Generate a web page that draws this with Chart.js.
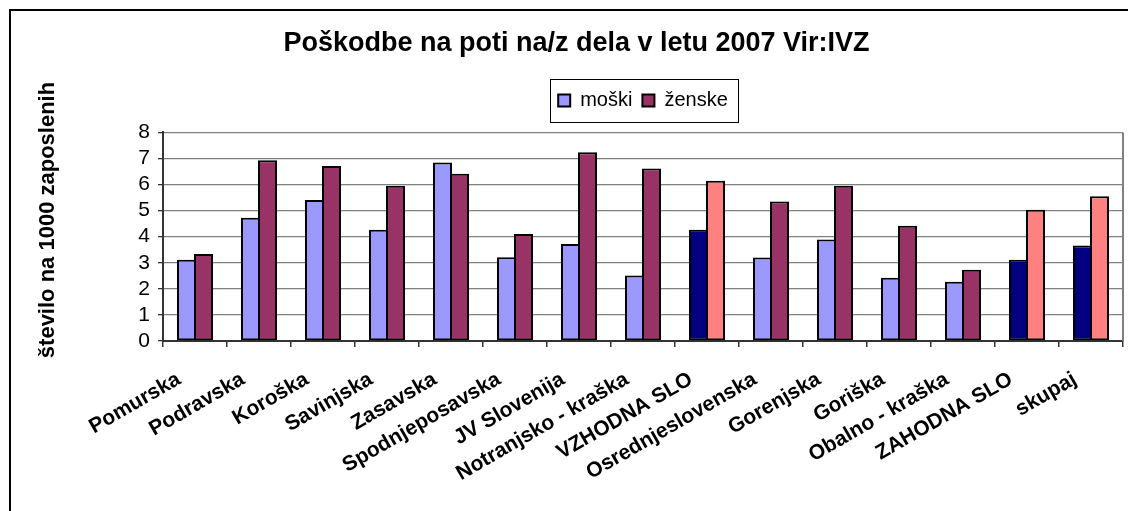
<!DOCTYPE html>
<html>
<head>
<meta charset="utf-8">
<script src="https://cdn.jsdelivr.net/npm/chart.js@4.4.0/dist/chart.umd.min.js"></script>
<style>
  html, body { margin: 0; padding: 0; background: #fff; }
  #wrap { width: 1128px; height: 511px; }
</style>
</head>
<body>
<div id="wrap"><canvas id="poskodbe"></canvas></div>
<script>
// data
const regije = ['Pomurska', 'Podravska', 'Koroška', 'Savinjska', 'Zasavska', 'Spodnjeposavska',
  'JV Slovenija', 'Notranjsko - kraška', 'VZHODNA SLO', 'Osrednjeslovenska', 'Gorenjska',
  'Goriška', 'Obalno - kraška', 'ZAHODNA SLO', 'skupaj'];
const moski  = [3.12, 4.73, 5.41, 4.27, 6.85, 3.21, 3.72, 2.51, 4.27, 3.20, 3.89, 2.43, 2.27, 3.12, 3.66];
const zenske = [3.34, 6.93, 6.71, 5.95, 6.41, 4.10, 7.24, 6.62, 6.15, 5.35, 5.95, 4.42, 2.73, 5.03, 5.55];
const skupne = ['VZHODNA SLO', 'ZAHODNA SLO', 'skupaj'];
const yTicks = [0, 1, 2, 3, 4, 5, 6, 7, 8];

const naslov = 'Poškodbe na poti na/z dela v letu 2007 Vir:IVZ';
const yNaslov = 'število na 1000 zaposlenih';

const FONT = '"Liberation Sans", Arial, sans-serif';

function barva(base, poudarek){
  return function(ctx){
    if (ctx.dataIndex !== undefined && skupne.includes(regije[ctx.dataIndex])) return poudarek;
    return base;
  };
}

// frame, plot border, legend box and rotated y title
const okvir = {
  id: 'okvir',
  beforeDraw(chart){
    const c = chart.ctx;
    c.save();
    c.strokeStyle = '#000';
    c.lineWidth = 2;
    c.strokeRect(10, 10, 1400, 800);
    c.restore();
  },
  afterDraw(chart){
    const c = chart.ctx;
    const a = chart.chartArea;
    c.save();
    c.strokeStyle = '#808080';
    c.lineWidth = 2;
    c.beginPath();
    c.moveTo(a.right, a.top);
    c.lineTo(a.right, a.bottom);
    c.stroke();

    const hb = chart.legend.legendHitBoxes;
    if (hb && hb.length){
      const l = hb[0].left - 8;
      const r = hb[hb.length - 1].left + hb[hb.length - 1].width + 10;
      const cy = hb[0].top + hb[0].height / 2;
      c.strokeStyle = '#000';
      c.lineWidth = 1;
      c.strokeRect(Math.round(l) + 0.5, Math.round(cy - 21) + 0.5, Math.round(r - l), 43);
    }

    c.translate(48, 220);
    c.rotate(-Math.PI / 2);
    c.font = 'bold 22px ' + FONT;
    c.fillStyle = '#000';
    c.textAlign = 'center';
    c.textBaseline = 'middle';
    c.fillText(yNaslov, 0, 0);
    c.restore();
  }
};

const ctx = document.getElementById('poskodbe').getContext('2d');
const chart = new Chart(ctx, {
  type: 'bar',
  data: {
    labels: regije,
    datasets: [{
      label: 'moški',
      data: moski,
      backgroundColor: barva('#9999FF', '#000080'),
      borderColor: '#000',
      borderWidth: 2,
      borderSkipped: false
    }, {
      label: 'ženske',
      data: zenske,
      backgroundColor: barva('#993366', '#FF8080'),
      borderColor: '#000',
      borderWidth: 2,
      borderSkipped: false
    }]
  },
  options: {
    responsive: true,
    maintainAspectRatio: false,
    animation: false,
    categoryPercentage: 0.531,
    barPercentage: 1.118,
    layout: { padding: { left: 30, right: 5, top: 0, bottom: 0 } },
    plugins: {
      title: {
        display: true,
        text: naslov,
        color: '#000',
        font: { family: FONT, size: 27, weight: 'bold' },
        padding: { top: 27, bottom: 21 }
      },
      legend: {
        display: true,
        fullSize: false,
        labels: {
          color: '#000',
          font: { family: FONT, size: 20 },
          boxWidth: 12,
          boxHeight: 12,
          padding: 10
        }
      },
      subtitle: {
        display: true,
        text: '',
        weight: 500,
        font: { size: 10, lineHeight: 1.2 },
        padding: 0
      },
      tooltip: { enabled: false }
    },
    scales: {
      x: {
        afterFit(scale){ scale.height = 170; },
        grid: {
          display: true,
          offset: true,
          drawOnChartArea: false,
          drawTicks: true,
          tickLength: 6,
          color: '#333',
          lineWidth: 1.5
        },
        border: { display: true, color: '#333', width: 2 },
        ticks: {
          autoSkip: false,
          minRotation: 30,
          maxRotation: 30,
          labelOffset: -16,
          color: '#000',
          font: { family: FONT, size: 21, weight: 'bold' },
          padding: 20
        }
      },
      y: {
        min: 0,
        max: 8,
        afterFit(scale){ scale.width = 133; },
        afterBuildTicks(scale){ scale.ticks = yTicks.map(v => ({ value: v })); },
        grid: {
          color: '#808080',
          lineWidth: 1.3,
          tickLength: 5,
          tickColor: '#333'
        },
        border: { display: true, color: '#333', width: 2 },
        ticks: {
          autoSkip: false,
          color: '#000',
          font: { family: FONT, size: 21 },
          padding: 8
        }
      }
    }
  },
  plugins: [okvir]
});
</script>
</body>
</html>
